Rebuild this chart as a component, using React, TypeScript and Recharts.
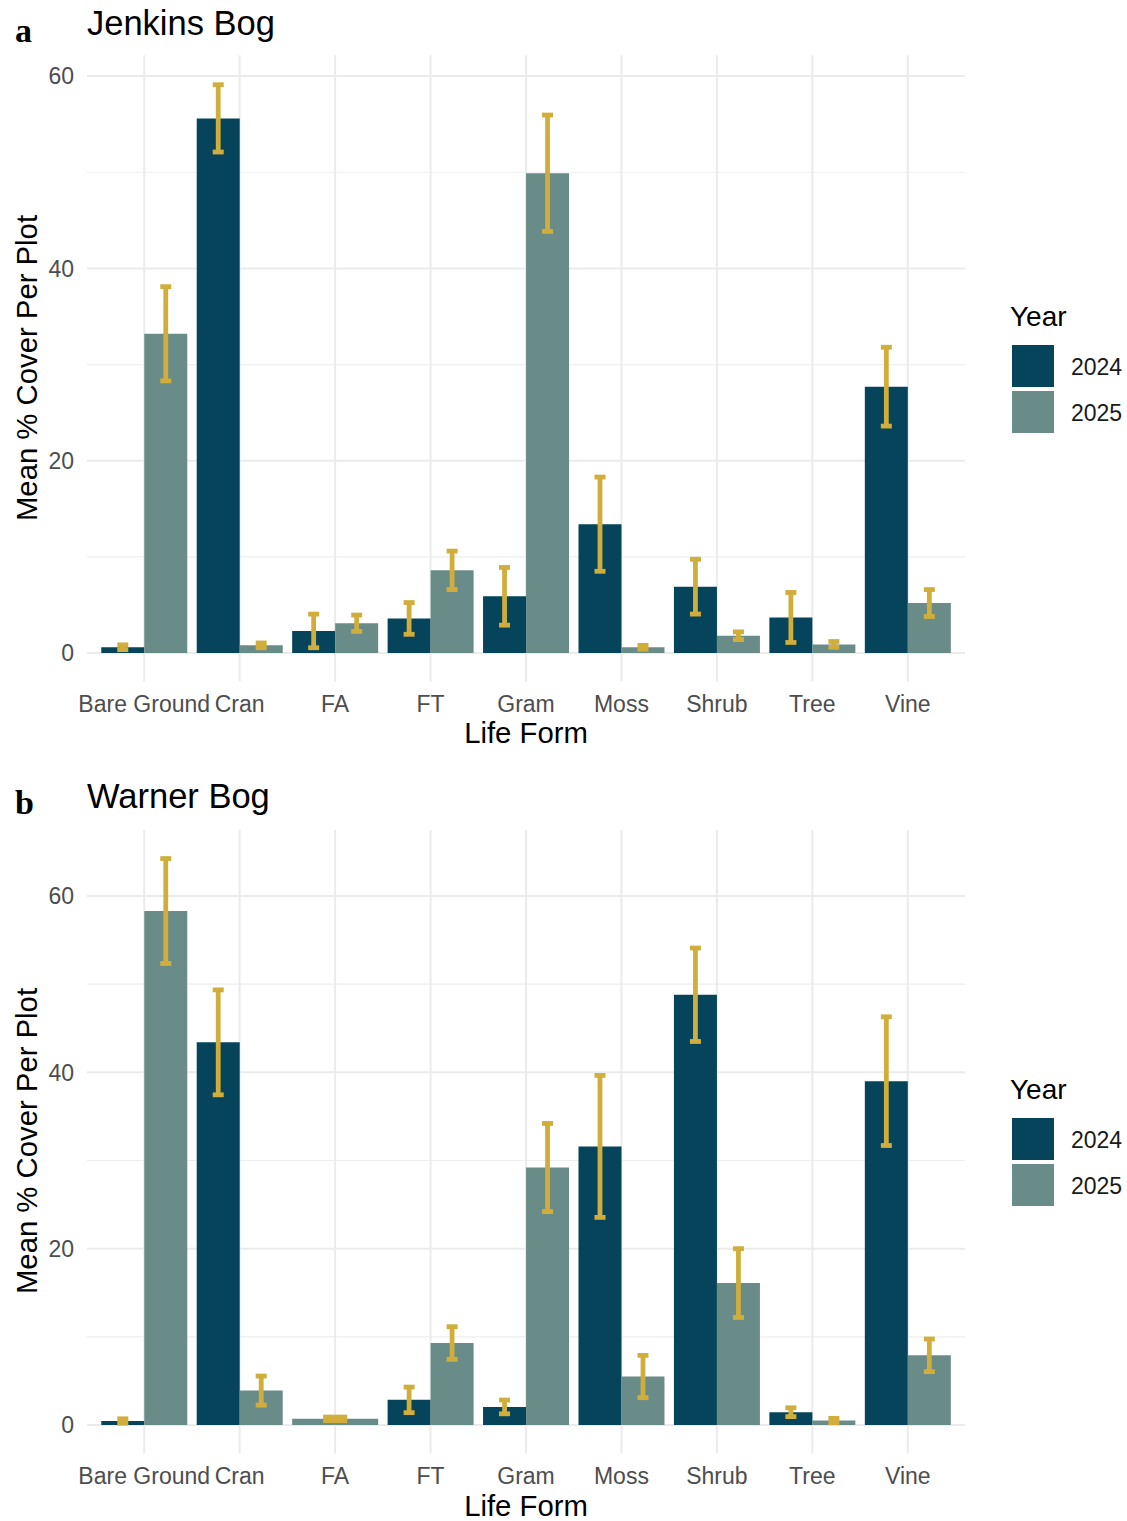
import { BarChart, Bar, XAxis, YAxis, CartesianGrid, ErrorBar, Cell } from 'recharts';

const lifeForms = ['Bare Ground', 'Cran', 'FA', 'FT', 'Gram', 'Moss', 'Shrub', 'Tree', 'Vine'];
const years = ['2024', '2025'];

// Jenkins Bog: mean % cover and standard error
const jenkins2024 = [0.6, 55.6, 2.3, 3.6, 5.9, 13.4, 6.9, 3.7, 27.7];
const jenkins2024Se = [0.25, 3.5, 1.75, 1.65, 3.0, 4.9, 2.85, 2.6, 4.1];
const jenkins2025 = [33.2, 0.8, 3.1, 8.6, 49.9, 0.6, 1.8, 0.9, 5.2];
const jenkins2025Se = [4.9, 0.25, 0.85, 2.0, 6.05, 0.2, 0.4, 0.3, 1.4];

// Warner Bog (no FA recorded in 2024)
const warner2024 = [0.45, 43.4, null, 2.85, 2.05, 31.6, 48.8, 1.45, 39.0];
const warner2024Se = [0.25, 5.95, null, 1.45, 0.78, 8.05, 5.3, 0.5, 7.3];
const warner2025 = [58.3, 3.9, 0.7, 9.3, 29.2, 5.5, 16.1, 0.5, 7.9];
const warner2025Se = [5.95, 1.65, 0.2, 1.85, 5.0, 2.4, 3.9, 0.25, 1.85];

const majorTicks = [0, 20, 40, 60];
const minorTicks = [10, 30, 50];

const COLORS: Record<string, string> = { '2024': '#05445A', '2025': '#6A8C88' };
const ERR_COLOR = '#D1AE3B';
const SANS = '"Liberation Sans", Arial, sans-serif';

type Val = number | null;

// a life form with only one year gets a full-width bar, like ggplot's dodge
function buildRows(v24: Val[], se24: Val[], v25: Val[], se25: Val[]) {
    return lifeForms.map((name, i) => {
        const both = v24[i] != null && v25[i] != null;
        const soloYear = both ? null : v24[i] != null ? '2024' : '2025';
        return {
            name,
            y2024: both ? v24[i] : null,
            e2024: both ? se24[i] : null,
            y2025: both ? v25[i] : null,
            e2025: both ? se25[i] : null,
            solo: soloYear === '2024' ? v24[i] : soloYear === '2025' ? v25[i] : null,
            soloErr: soloYear === '2024' ? se24[i] : soloYear === '2025' ? se25[i] : null,
            soloColor: soloYear ? COLORS[soloYear] : COLORS['2025'],
        };
    });
}

const jenkinsRows = buildRows(jenkins2024, jenkins2024Se, jenkins2025, jenkins2025Se);
const warnerRows = buildRows(warner2024, warner2024Se, warner2025, warner2025Se);

interface PanelProps {
    rows: ReturnType<typeof buildRows>;
    top: number;
    height: number;
    marginTop: number;
    marginBottom: number;
    domain: [number, number];
}

function Panel({ rows, top, height, marginTop, marginBottom, domain }: PanelProps) {
    const pad = { left: 9.5, right: 9.5 };
    return (
        <div style={{ position: 'absolute', left: 0, top, width: 1127, height }}>
            <BarChart
                width={1127}
                height={height}
                data={rows}
                margin={{ top: marginTop, right: 162, bottom: marginBottom, left: 0 }}
                barCategoryGap="5%"
                barGap={0}
                style={{ fontFamily: SANS }}
            >
                <CartesianGrid horizontalValues={minorTicks} vertical={false} stroke="#eeeeee" strokeWidth={1.2} />
                <CartesianGrid horizontalValues={majorTicks} syncWithTicks stroke="#ebebeb" strokeWidth={2} />
                <XAxis
                    dataKey="name"
                    interval={0}
                    padding={pad}
                    height={40}
                    axisLine={false}
                    tickLine={false}
                    tickSize={0}
                    tickMargin={14}
                    tick={{ fontSize: 23, fill: '#4d4d4d', fontFamily: SANS }}
                />
                <XAxis xAxisId="solo" dataKey="name" hide padding={pad} />
                <YAxis
                    width={87}
                    domain={domain}
                    ticks={majorTicks}
                    allowDataOverflow
                    axisLine={false}
                    tickLine={false}
                    tickSize={0}
                    tickMargin={13}
                    tick={{ fontSize: 23, fill: '#4d4d4d', fontFamily: SANS }}
                />
                {years.map((yr) => (
                    <Bar key={yr} dataKey={`y${yr}`} fill={COLORS[yr]} isAnimationActive={false}>
                        <ErrorBar dataKey={`e${yr}`} direction="y" width={5.5} stroke={ERR_COLOR} strokeWidth={4.8} />
                    </Bar>
                ))}
                <Bar xAxisId="solo" dataKey="solo" isAnimationActive={false}>
                    {rows.map((r, i) => (
                        <Cell key={`solo-${i}`} fill={r.soloColor} />
                    ))}
                    <ErrorBar dataKey="soloErr" direction="y" width={12} stroke={ERR_COLOR} strokeWidth={4.8} />
                </Bar>
            </BarChart>
        </div>
    );
}

function Labels({ dy, letter, title, letterDy }: { dy: number; letter: string; title: string; letterDy: number }) {
    const plotMid = 368 + dy;
    return (
        <g>
            <text x={15} y={42 + dy + letterDy} fontFamily='"Liberation Serif", "Times New Roman", serif' fontWeight="bold" fontSize={34} fill="#000">
                {letter}
            </text>
            <text x={87} y={35 + dy} fontFamily={SANS} fontSize={34.5} fill="#000">{title}</text>
            <text
                x={37}
                y={plotMid}
                transform={`rotate(-90, 37, ${plotMid})`}
                textAnchor="middle"
                fontFamily={SANS}
                fontSize={29.3}
                fill="#000"
            >
                Mean % Cover Per Plot
            </text>
            <text x={526} y={743 + dy} textAnchor="middle" fontFamily={SANS} fontSize={29.3} fill="#000">Life Form</text>
            <text x={1010} y={326 + dy} fontFamily={SANS} fontSize={28} fill="#000">Year</text>
            {years.map((yr, i) => (
                <g key={yr}>
                    <rect x={1012} y={345 + dy + i * 46} width={42} height={42} fill={COLORS[yr]} />
                    <text x={1071} y={375 + dy + i * 46} fontFamily={SANS} fontSize={23} fill="#1a1a1a">{yr}</text>
                </g>
            ))}
        </g>
    );
}

export default function App() {
    return (
        <div style={{ position: 'absolute', left: 0, top: 0, width: 1127, height: 1521, background: '#fff' }}>
            <Panel rows={jenkinsRows} top={0} height={760} marginTop={55.3} marginBottom={38.5} domain={[-2.96, 62.16]} />
            <Panel rows={warnerRows} top={770} height={751} marginTop={59.9} marginBottom={27.8} domain={[-3.2, 67.5]} />
            <svg width={1127} height={1521} style={{ position: 'absolute', left: 0, top: 0, pointerEvents: 'none' }}>
                <Labels dy={0} letter="a" title="Jenkins Bog" letterDy={0} />
                <Labels dy={773} letter="b" title="Warner Bog" letterDy={-1} />
            </svg>
        </div>
    );
}
